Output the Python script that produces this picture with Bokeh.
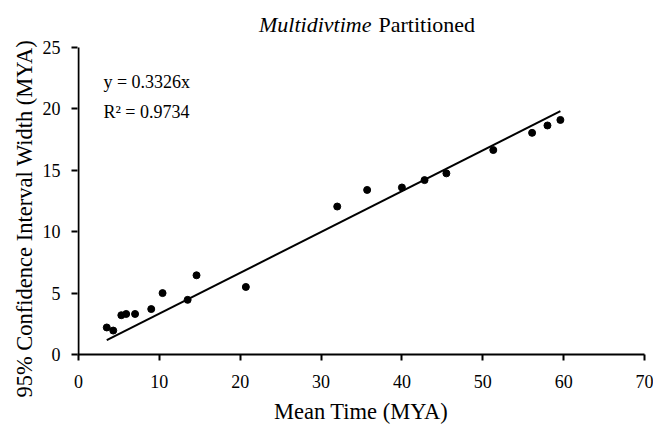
from bokeh.plotting import figure
from bokeh.models import Range1d, FixedTicker, Label, Title
from bokeh.embed import file_html
from bokeh.resources import INLINE

# Data
mean_time = [3.5, 4.3, 5.3, 5.9, 7.0, 9.0, 10.4, 13.5, 14.6, 20.7,
             32.0, 35.7, 40.0, 42.8, 45.5, 51.3, 56.1, 58.0, 59.6]
ci_width = [2.2, 1.95, 3.2, 3.3, 3.3, 3.7, 5.0, 4.45, 6.45, 5.5,
            12.05, 13.4, 13.6, 14.2, 14.75, 16.65, 18.05, 18.65, 19.1]
slope = 0.3326
r2 = 0.9734
x_ticks = [0, 10, 20, 30, 40, 50, 60, 70]
y_ticks = [0, 5, 10, 15, 20, 25]
y_max = 25
title_name = "Multidivtime"
title_rest = "Partitioned"
x_label = "Mean Time (MYA)"
y_label = "95% Confidence Interval Width (MYA)"

FONT = "Liberation Serif"

# frame extends above the y-axis top so the title can live inside it
y_top = y_max + 47 * y_max / 307.0
p = figure(frame_width=567, frame_height=354,
           min_border_left=77, min_border_top=0, min_border_right=9, min_border_bottom=71,
           x_range=Range1d(-0.12, 70), y_range=Range1d(0, y_top),
           output_backend="svg", toolbar_location=None)
p.outline_line_color = None
p.xgrid.visible = False
p.ygrid.visible = False
p.background_fill_color = "white"
p.border_fill_color = "white"

for ax in (p.xaxis[0], p.yaxis[0]):
    ax.axis_line_color = "black"
    ax.axis_line_width = 2
    ax.major_tick_line_color = "black"
    ax.major_tick_line_width = 2
    ax.major_tick_in = 0
    ax.major_tick_out = 6
    ax.minor_tick_line_color = None
    ax.major_label_text_font = FONT
    ax.major_label_text_font_size = "18px"
    ax.major_label_text_color = "black"
    ax.axis_label_text_font = FONT
    ax.axis_label_text_font_size = "22.5px"
    ax.axis_label_text_font_style = "normal"
    ax.axis_label_text_color = "black"

p.yaxis.axis_line_color = None  # drawn below only up to y_max
p.xaxis.ticker = FixedTicker(ticks=x_ticks)
p.yaxis.ticker = FixedTicker(ticks=y_ticks)
p.xaxis.axis_label = x_label
p.xaxis.major_label_standoff = 14
p.yaxis.major_label_standoff = 11
p.xaxis.axis_label_standoff = 8

# y-axis title as a side-panel Title so it can be placed along the axis like the reference
p.add_layout(Title(text=y_label, align="left", offset=-43, standoff=5,
                   text_font=FONT, text_font_size="22.5px", text_font_style="normal",
                   text_color="black"), "left")

# y axis line
p.segment(x0=[0], y0=[0], x1=[0], y1=[y_max], line_color="black", line_width=2)

# trend line (linear through origin)
x0, x1 = min(mean_time), max(mean_time)
p.line([x0, x1], [slope * x0, slope * x1], line_color="black", line_width=2)

p.scatter(mean_time, ci_width, size=7, color="black")

# Equation text
p.add_layout(Label(x=3.09, y=22.23, text="y = %.4fx" % slope, text_font=FONT,
                   text_font_size="18px", text_color="black",
                   text_baseline="middle", text_align="left"))
p.add_layout(Label(x=3.09, y=19.71, text="R² = %.4f" % r2, text_font=FONT,
                   text_font_size="18px", text_color="black",
                   text_baseline="middle", text_align="left"))

# Title: italic program name + normal text
p.add_layout(Label(x=36.23, y=26.91, text=title_name, text_font=FONT,
                   text_font_size="22px", text_font_style="italic", text_color="black",
                   text_baseline="middle", text_align="right"))
p.add_layout(Label(x=37.10, y=26.91, text=title_rest, text_font=FONT,
                   text_font_size="22px", text_color="black",
                   text_baseline="middle", text_align="left"))

open("out.html", "w").write(file_html(p, INLINE))
